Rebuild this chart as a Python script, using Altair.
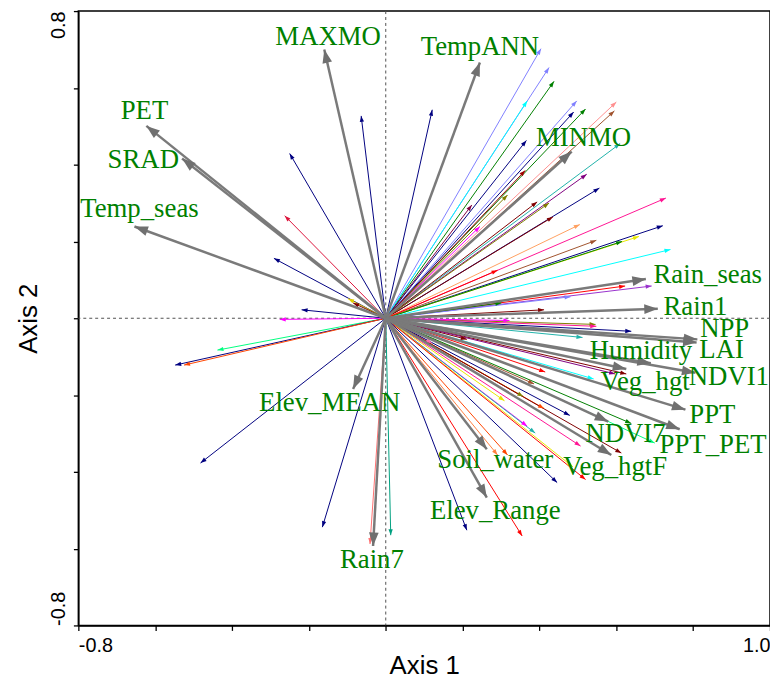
import altair as alt
import pandas as pd
import numpy as np

# ---- axes ----
x_ticks = [-0.8, -0.6, -0.4, -0.2, 0.0, 0.2, 0.4, 0.6, 0.8, 1.0]
y_ticks = [-0.8, -0.6, -0.4, -0.2, 0.0, 0.2, 0.4, 0.6, 0.8]

# ---- environmental variables (gray arrows) ----
env_names = ["MAXMO", "TempANN", "MINMO", "PET", "SRAD", "Temp_seas", "Rain_seas",
             "Rain1", "NPP", "LAI", "Humidity", "Veg_hgt", "NDVI1", "PPT", "PPT_PET",
             "NDVI7", "Veg_hgtF", "Soil_water", "Elev_Range", "Elev_MEAN", "Rain7"]
env_x = [-0.160, 0.245, 0.484, -0.623, -0.530, -0.654, 0.677,
         0.708, 0.811, 0.809, 0.690, 0.626, 0.806, 0.780, 0.765,
         0.579, 0.587, 0.263, 0.263, -0.085, -0.033]
env_y = [0.700, 0.666, 0.434, 0.501, 0.416, 0.239, 0.102,
         0.025, -0.055, -0.063, -0.117, -0.132, -0.142, -0.238, -0.289,
         -0.269, -0.356, -0.341, -0.467, -0.184, -0.593]
label_x = [-0.150, 0.245, 0.515, -0.628, -0.631, -0.641, 0.838,
           0.806, 0.882, 0.874, 0.664, 0.675, 0.893, 0.850, 0.852,
           0.624, 0.597, 0.285, 0.285, -0.146, -0.036]
label_y = [0.733, 0.705, 0.470, 0.540, 0.411, 0.285, 0.113,
           0.030, -0.027, -0.083, -0.086, -0.166, -0.153, -0.251, -0.330,
           -0.302, -0.387, -0.369, -0.503, -0.222, -0.629]

# ---- species (thin coloured arrows) ----
sp_x = [-0.250, -0.263, -0.291, -0.219, -0.276, -0.438, -0.548, -0.525, -0.482, -0.165,
        -0.041, 0.013, -0.064, 0.121, -0.098, -0.085, 0.404, 0.425, 0.438, 0.368,
        0.497, 0.489, 0.520, 0.600, 0.595, 0.366, 0.610, 0.363, 0.523, 0.556,
        0.729, 0.394, 0.425, 0.317, 0.224, 0.435, 0.505, 0.721, 0.548, 0.659,
        0.615, 0.741, 0.291, 0.692, 0.623, 0.481, 0.301, 0.412, 0.245, 0.546,
        0.548, 0.639, 0.512, 0.322, 0.121, 0.211, 0.415, 0.541, 0.626, 0.597,
        0.386, 0.358, 0.412, 0.479, 0.639, 0.700, 0.368, 0.389, 0.507, 0.613,
        0.487, 0.520, 0.446, 0.317, 0.355, 0.211, 0.309, 0.291]
sp_y = [0.429, 0.267, 0.156, 0.022, -0.003, -0.083, -0.122, -0.122, -0.377, -0.544,
        -0.588, -0.565, 0.527, 0.543, 0.051, 0.040, 0.702, 0.653, 0.617, 0.566,
        0.566, 0.537, 0.545, 0.563, 0.540, 0.463, 0.455, 0.385, 0.375, 0.339,
        0.313, 0.303, 0.300, 0.321, 0.295, 0.264, 0.244, 0.241, 0.203, 0.213,
        0.200, 0.179, 0.125, 0.084, 0.084, 0.056, 0.040, 0.022, 0.239, -0.016,
        -0.021, -0.034, -0.050, -0.006, -0.065, -0.055, -0.140, -0.158, -0.145, -0.145,
        -0.171, -0.204, -0.235, -0.253, -0.274, -0.325, -0.281, -0.299, -0.333, -0.351,
        -0.387, -0.420, -0.428, -0.356, -0.567, -0.552, -0.215, -0.356]
sp_color = ["#000080", "#dc143c", "#000080", "#000080", "#ff00ff", "#00ff80", "#000080", "#ff4500", "#000080", "#000080",
            "#ff7070", "#00a080", "#000080", "#000080", "#e0d000", "#800000", "#8080ff", "#8080ff", "#008000", "#00ffff",
            "#8080ff", "#000080", "#008000", "#ff9090", "#a0522d", "#000080", "#20b2aa", "#a00000", "#800080", "#000080",
            "#ff1493", "#800000", "#808000", "#808000", "#800040", "#800000", "#ffa060", "#000080", "#a0522d", "#e8e800",
            "#008000", "#00ffff", "#ff0000", "#9932cc", "#ff0000", "#8080ff", "#008000", "#800000", "#ff00ff", "#808000",
            "#ff1493", "#000080", "#20b2aa", "#ff00ff", "#ff69b4", "#800000", "#ff0000", "#00ffff", "#800000", "#800080",
            "#a0522d", "#808000", "#ff4500", "#000080", "#008000", "#00ff80", "#ff00ff", "#20b2aa", "#ff1493", "#800000",
            "#e8e800", "#ff0000", "#000080", "#ff4500", "#ff0000", "#000080", "#e8e800", "#ff8040"]

env = pd.DataFrame({"name": env_names, "x": env_x, "y": env_y, "lx": label_x, "ly": label_y})
env["ox"] = 0.0
env["oy"] = 0.0
env["ang"] = np.degrees(np.arctan2(env["x"], env["y"])) % 360

sp = pd.DataFrame({"x": sp_x, "y": sp_y, "col": sp_color})
sp["ox"] = 0.0
sp["oy"] = 0.0
sp["ang"] = np.degrees(np.arctan2(sp["x"], sp["y"])) % 360

origin = pd.DataFrame({"ox": [0.0], "oy": [0.0]})

xs = alt.Scale(domain=[-0.8, 1.0], nice=False, zero=False)
ys = alt.Scale(domain=[-0.8, 0.8], nice=False, zero=False)

xaxis = alt.Axis(
    values=x_ticks, title="Axis 1", grid=False,
    labelExpr="datum.value < -0.79 ? '-0.8' : (datum.value > 0.99 ? '1.0' : '')",
    labelFlush=True, tickSize=5, tickColor="black", tickWidth=1.3,
    domainColor="black", domainWidth=1.5,
    labelFont="Liberation Sans", labelFontSize=20, labelColor="black", labelPadding=5,
    titleFont="Liberation Sans", titleFontSize=26, titleFontWeight="normal",
    titleColor="black", titlePadding=-2,
)
yaxis = alt.Axis(
    values=y_ticks, title="Axis 2", grid=False,
    labelExpr="datum.value > 0.79 ? '0.8' : (datum.value < -0.79 ? '-0.8' : '')",
    labelAngle=270,
    labelAlign={"condition": {"test": "datum.value > 0", "value": "right"}, "value": "left"},
    labelBaseline="bottom",
    tickSize=5, tickColor="black", tickWidth=1.3,
    domainColor="black", domainWidth=1.5,
    labelFont="Liberation Sans", labelFontSize=20, labelColor="black", labelPadding=5,
    titleFont="Liberation Sans", titleFontSize=26, titleFontWeight="normal",
    titleColor="black", titlePadding=7,
)

def X(f):
    return alt.X(f, type="quantitative", scale=xs, axis=xaxis)

def Y(f):
    return alt.Y(f, type="quantitative", scale=ys, axis=yaxis)

head_path = "M0,0L-0.5,1.4L0.5,1.4Z"

vline = alt.Chart(origin).mark_rule(color="#505050", strokeDash=[3, 3], strokeWidth=1).encode(x=X("ox"))
hline = alt.Chart(origin).mark_rule(color="#505050", strokeDash=[3, 3], strokeWidth=1).encode(y=Y("oy"))

sp_lines = alt.Chart(sp).mark_rule(strokeWidth=1).encode(
    x=X("ox"), y=Y("oy"), x2="x", y2="y", color=alt.Color("col:N", scale=None)
)
sp_heads = alt.Chart(sp).mark_point(shape=head_path, filled=True, size=75, opacity=1).encode(
    x=X("x"), y=Y("y"), angle=alt.Angle("ang:Q", scale=None), color=alt.Color("col:N", scale=None)
)

env_lines = alt.Chart(env).mark_rule(strokeWidth=2.5, color="#7a7a7a").encode(
    x=X("ox"), y=Y("oy"), x2="x", y2="y"
)
env_heads = alt.Chart(env).mark_point(shape=head_path, filled=True, size=380, opacity=1, color="#707070").encode(
    x=X("x"), y=Y("y"), angle=alt.Angle("ang:Q", scale=None)
)
env_text = alt.Chart(env).mark_text(
    font="Liberation Serif", fontSize=27, color="#008000", align="center", baseline="middle"
).encode(x=X("lx"), y=Y("ly"), text="name:N")

chart = alt.layer(vline, hline, sp_lines, sp_heads, env_lines, env_heads, env_text).properties(
    width=698, height=620,
    autosize=alt.AutoSizeParams(type="none"),
    padding={"left": 71, "top": 0, "right": 0, "bottom": 56},
).configure_view(stroke="black", strokeWidth=1.5)

chart.save("out.html", embed_options={"renderer": "svg", "actions": False})
